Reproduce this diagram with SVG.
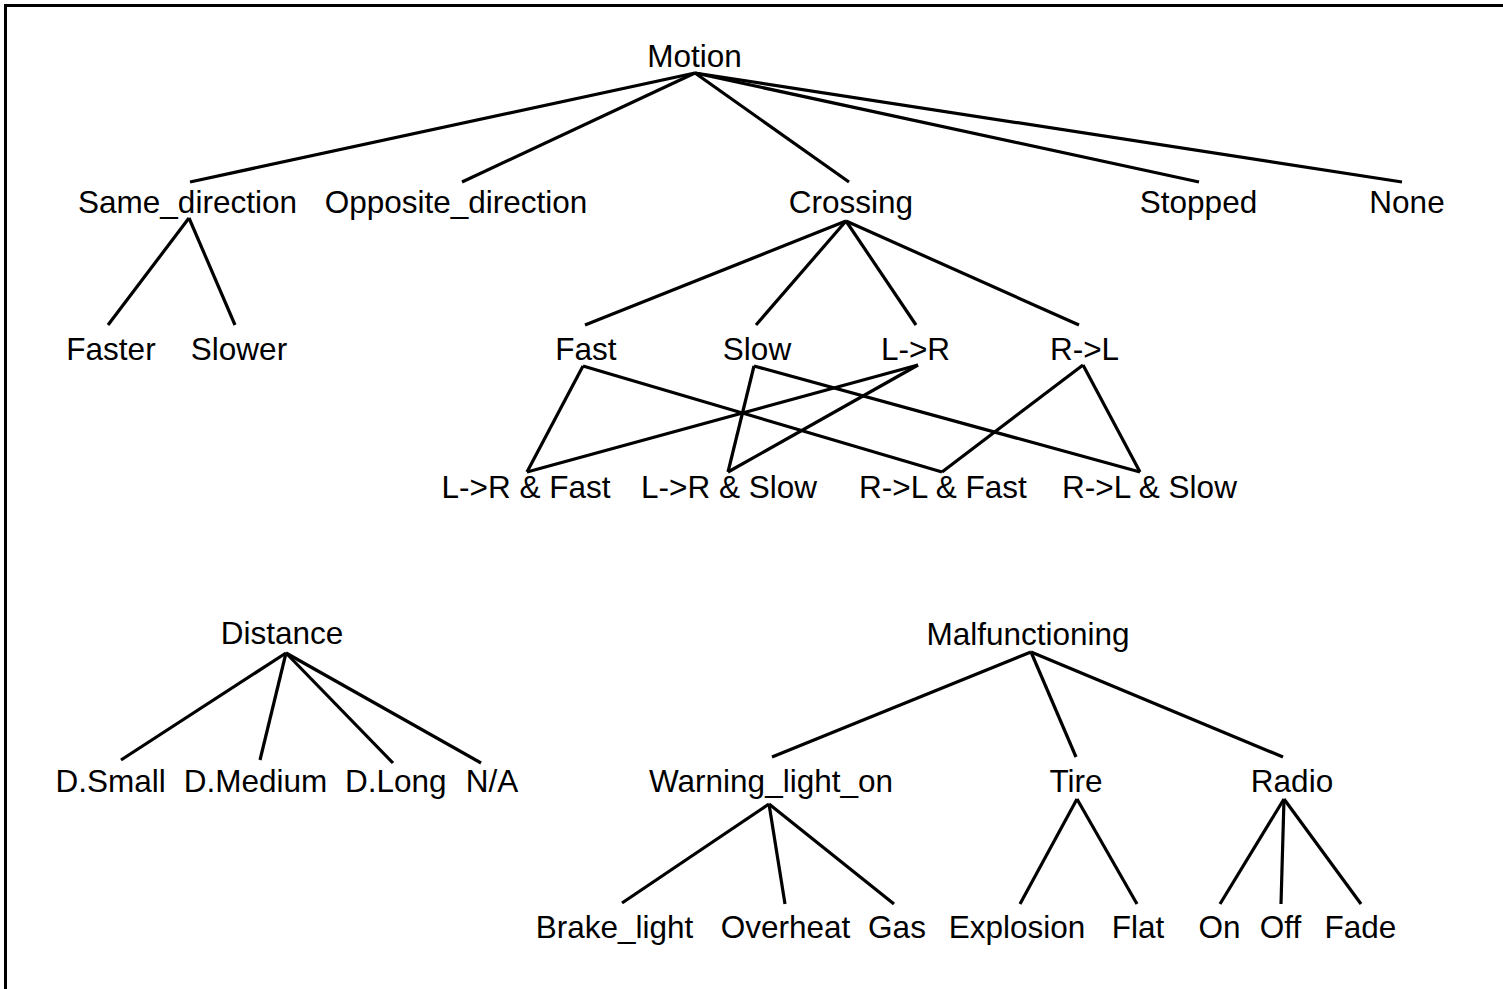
<svg xmlns="http://www.w3.org/2000/svg" width="1503" height="989" viewBox="0 0 1503 989">
<style>
text{font-family:"Liberation Sans",Arial,sans-serif;font-size:31.5px;fill:#000;text-anchor:middle}
#edges line{stroke:#000;stroke-width:3.2;stroke-linecap:butt}
</style>
<rect x="0" y="0" width="1503" height="989" fill="#fff"/>
<rect x="5.5" y="5.5" width="1600" height="1100" fill="none" stroke="#000" stroke-width="3"/>
<g id="edges">
<line x1="695" y1="73" x2="190" y2="182"/>
<line x1="695" y1="73" x2="462" y2="182"/>
<line x1="695" y1="73" x2="849" y2="182"/>
<line x1="695" y1="73" x2="1199" y2="182"/>
<line x1="695" y1="73" x2="1402" y2="182"/>
<line x1="189" y1="218" x2="108" y2="325"/>
<line x1="189" y1="218" x2="235" y2="325"/>
<line x1="846" y1="221" x2="585" y2="325"/>
<line x1="846" y1="221" x2="756" y2="325"/>
<line x1="846" y1="221" x2="916" y2="325"/>
<line x1="846" y1="221" x2="1079" y2="325"/>
<line x1="583" y1="366" x2="527" y2="472"/>
<line x1="583" y1="366" x2="942" y2="472"/>
<line x1="754" y1="366" x2="728" y2="472"/>
<line x1="754" y1="366" x2="1140" y2="472"/>
<line x1="918" y1="365" x2="527" y2="472"/>
<line x1="918" y1="365" x2="728" y2="472"/>
<line x1="1083" y1="365" x2="942" y2="472"/>
<line x1="1083" y1="365" x2="1140" y2="472"/>
<line x1="286" y1="653" x2="121" y2="760"/>
<line x1="286" y1="653" x2="260" y2="760"/>
<line x1="286" y1="653" x2="393" y2="763"/>
<line x1="286" y1="653" x2="481" y2="763"/>
<line x1="1031" y1="652" x2="772" y2="757"/>
<line x1="1031" y1="652" x2="1076" y2="757"/>
<line x1="1031" y1="652" x2="1283" y2="757"/>
<line x1="769" y1="804" x2="622" y2="903"/>
<line x1="769" y1="804" x2="785" y2="904"/>
<line x1="769" y1="804" x2="894" y2="904"/>
<line x1="1077" y1="799" x2="1020" y2="904"/>
<line x1="1077" y1="799" x2="1137" y2="904"/>
<line x1="1284" y1="799" x2="1220" y2="904"/>
<line x1="1284" y1="799" x2="1281" y2="904"/>
<line x1="1284" y1="799" x2="1361" y2="904"/>
</g>
<g id="n-motion"><text x="694.5" y="67">Motion</text></g>
<g id="n-same"><text x="187.5" y="213">Same_direction</text></g>
<g id="n-opposite"><text x="456" y="213">Opposite_direction</text></g>
<g id="n-crossing"><text x="851" y="213">Crossing</text></g>
<g id="n-stopped"><text x="1198.5" y="213">Stopped</text></g>
<g id="n-none"><text x="1407" y="213">None</text></g>
<g id="n-faster"><text x="111" y="360">Faster</text></g>
<g id="n-slower"><text x="239" y="360">Slower</text></g>
<g id="n-fast"><text x="586" y="360">Fast</text></g>
<g id="n-slow"><text x="757" y="360">Slow</text></g>
<g id="n-lr"><text x="915.5" y="360">L-&gt;R</text></g>
<g id="n-rl"><text x="1084.5" y="360">R-&gt;L</text></g>
<g id="n-lrfast"><text x="526" y="498">L-&gt;R &amp; Fast</text></g>
<g id="n-lrslow"><text x="729" y="498">L-&gt;R &amp; Slow</text></g>
<g id="n-rlfast"><text x="943" y="498">R-&gt;L &amp; Fast</text></g>
<g id="n-rlslow"><text x="1149.5" y="498">R-&gt;L &amp; Slow</text></g>
<g id="n-distance"><text x="282" y="644">Distance</text></g>
<g id="n-dsmall"><text x="110.7" y="792">D.Small</text></g>
<g id="n-dmedium"><text x="255.5" y="792">D.Medium</text></g>
<g id="n-dlong"><text x="395.7" y="792">D.Long</text></g>
<g id="n-na"><text x="492" y="792">N/A</text></g>
<g id="n-malf"><text x="1028" y="645">Malfunctioning</text></g>
<g id="n-warning"><text x="771" y="792">Warning_light_on</text></g>
<g id="n-tire"><text x="1076" y="792">Tire</text></g>
<g id="n-radio"><text x="1292" y="792">Radio</text></g>
<g id="n-brake"><text x="614.5" y="938">Brake_light</text></g>
<g id="n-overheat"><text x="785.5" y="938">Overheat</text></g>
<g id="n-gas"><text x="897" y="938">Gas</text></g>
<g id="n-explosion"><text x="1017" y="938">Explosion</text></g>
<g id="n-flat"><text x="1138" y="938">Flat</text></g>
<g id="n-on"><text x="1219.5" y="938">On</text></g>
<g id="n-off"><text x="1280.5" y="938">Off</text></g>
<g id="n-fade"><text x="1360.5" y="938">Fade</text></g>
</svg>
